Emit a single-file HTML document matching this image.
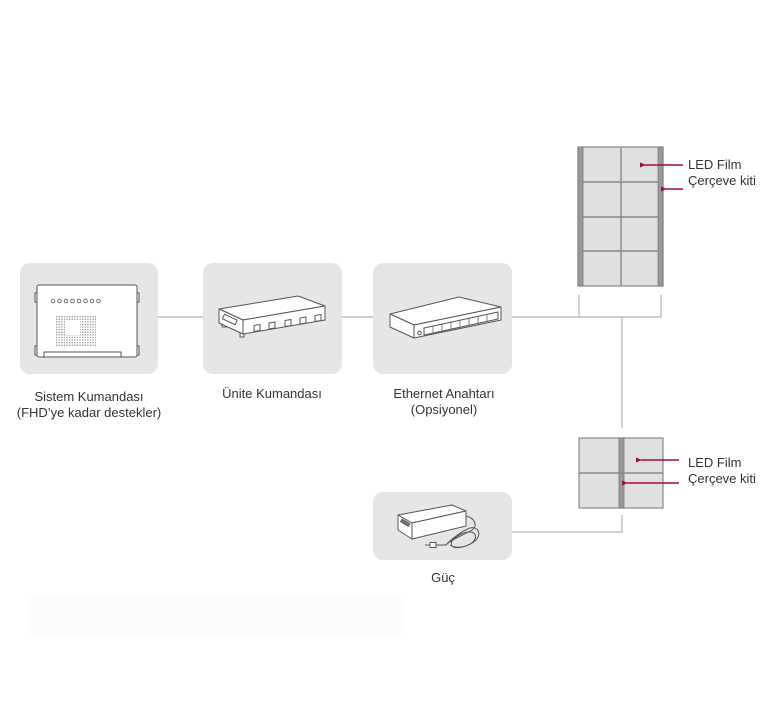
<!DOCTYPE html>
<html><head><meta charset="utf-8"><style>
html,body{margin:0;padding:0;background:#fff;}
svg{display:block;}
text{font-family:"Liberation Sans",sans-serif;font-size:13px;fill:#333;}
</style></head><body>
<svg width="768" height="713" viewBox="0 0 768 713" xmlns="http://www.w3.org/2000/svg">
<defs>
<marker id="ah" markerWidth="6" markerHeight="6" refX="1" refY="3" orient="auto" markerUnits="userSpaceOnUse">
<path d="M6,0.5 L0,3 L6,5.5 Z" fill="#a50a3c"/>
</marker>
</defs>
<!-- faint rect -->
<rect x="27" y="598" width="376" height="36" fill="#fcfcfc"/>

<!-- connectors -->
<g stroke="#b4b4b4" stroke-width="1.2" fill="none">
<line x1="157" y1="317" x2="203" y2="317"/>
<line x1="342" y1="317" x2="373" y2="317"/>
<polyline points="512,317 661,317 661,295"/>
<line x1="579" y1="295" x2="579" y2="317"/>
<line x1="622" y1="317" x2="622" y2="428"/>
<polyline points="512,532 622,532 622,515"/>
</g>

<!-- boxes -->
<g fill="#e6e6e6">
<rect x="20" y="263" width="138" height="111" rx="10"/>
<rect x="203" y="263" width="139" height="111" rx="10"/>
<rect x="373" y="263" width="139" height="111" rx="10"/>
<rect x="373" y="492" width="139" height="68" rx="10"/>
</g>

<!-- Sistem icon -->
<g stroke="#555" stroke-width="1" fill="#fff">
<rect x="35" y="293" width="3" height="9" fill="#fff"/>
<rect x="35" y="346" width="3" height="9" fill="#fff"/>
<rect x="136" y="293" width="3" height="9" fill="#fff"/>
<rect x="136" y="346" width="3" height="9" fill="#fff"/>
<rect x="37" y="285" width="100" height="72" rx="2"/>
<rect x="44" y="352" width="77" height="5" fill="#fff"/>
</g>
<g fill="#fff" stroke="#666" stroke-width="0.9">
<circle cx="53" cy="301" r="1.8"/><circle cx="59.5" cy="301" r="1.8"/><circle cx="66" cy="301" r="1.8"/><circle cx="72.5" cy="301" r="1.8"/>
<circle cx="79" cy="301" r="1.8"/><circle cx="85.5" cy="301" r="1.8"/><circle cx="92" cy="301" r="1.8"/><circle cx="98.5" cy="301" r="1.8"/>
</g>
<pattern id="dots" x="56" y="316" width="2.6" height="2.6" patternUnits="userSpaceOnUse"><rect width="1.3" height="1.3" fill="#999"/></pattern>
<rect x="56" y="316" width="40" height="30" fill="url(#dots)"/>
<rect x="65" y="321" width="15" height="14" fill="#fff"/>

<!-- Unite icon -->
<g stroke="#555" stroke-width="1" fill="#fff" stroke-linejoin="round">
<rect x="222" y="323" width="4" height="4"/>
<rect x="240" y="333" width="4" height="4"/>
<polygon points="219,309 298,296 325,306 243,320"/>
<polygon points="243,320 325,306 325,320 243,334"/>
<polygon points="219,309 243,320 243,334 219,323"/>
<rect x="223" y="317" width="14" height="5" transform="rotate(25 230 319)"/>
<rect x="254" y="325" width="6" height="6" transform="skewY(-9.6)" transform-origin="257 328"/>
<rect x="269" y="322.5" width="6" height="6" transform="skewY(-9.6)" transform-origin="272 325"/>
<rect x="285" y="320" width="6" height="6" transform="skewY(-9.6)" transform-origin="288 323"/>
<rect x="300" y="317.5" width="6" height="6" transform="skewY(-9.6)" transform-origin="303 320"/>
<rect x="315" y="315" width="6" height="6" transform="skewY(-9.6)" transform-origin="318 318"/>
</g>

<!-- Ethernet icon -->
<g stroke="#555" stroke-width="1" fill="#fff" stroke-linejoin="round">
<polygon points="390,314 459,297 501,307 414,325"/>
<polygon points="414,325 501,307 501,320 414,338"/>
<polygon points="390,314 414,325 414,338 390,327"/>
<circle cx="419.5" cy="333" r="1.8"/>
<polygon points="424,328 498,312 498,319 424,335"/>
</g>
<g stroke="#666" stroke-width="0.8" fill="none">
<line x1="433" y1="326" x2="433" y2="333"/>
<line x1="442" y1="324" x2="442" y2="331"/>
<line x1="451" y1="322" x2="451" y2="329"/>
<line x1="460" y1="320" x2="460" y2="327"/>
<line x1="469" y1="318" x2="469" y2="325"/>
<line x1="478" y1="316" x2="478" y2="323"/>
<line x1="487" y1="314" x2="487" y2="321"/>
</g>

<!-- Power icon -->
<g stroke="#555" stroke-width="1" fill="#fff" stroke-linejoin="round">
<polygon points="398,515 452,505 466,511 412,523"/>
<polygon points="412,523 466,511 466,526 412,539"/>
<polygon points="398,515 412,523 412,539 398,530"/>
<rect x="401" y="521" width="9" height="3" transform="rotate(30 405 522)" fill="#777"/>
</g>
<g stroke="#555" stroke-width="1" fill="none">
<path d="M466,516 C475,518 478,526 472,530 C462,536 450,540 446,545"/>
<path d="M446,545 C452,538 464,530 470,528 C478,526 482,534 476,540 C470,546 456,550 452,546 C448,541 460,533 468,532 C478,531 478,541 468,545 C462,548 455,548 450,545"/>
<path d="M446,545 L436,545"/>
<rect x="430" y="542.5" width="6" height="5" fill="#fff"/>
<line x1="425" y1="545" x2="430" y2="545"/>
</g>

<!-- top LED panel -->
<g>
<rect x="578" y="147" width="85" height="139" fill="#e0e0e0" stroke="#888" stroke-width="1.2"/>
<rect x="578" y="147" width="5" height="139" fill="#999" stroke="#777" stroke-width="0.8"/>
<rect x="658" y="147" width="5" height="139" fill="#999" stroke="#777" stroke-width="0.8"/>
<g stroke="#888" stroke-width="1.4">
<line x1="621" y1="147" x2="621" y2="286"/>
<line x1="583" y1="182" x2="658" y2="182"/>
<line x1="583" y1="217" x2="658" y2="217"/>
<line x1="583" y1="251" x2="658" y2="251"/>
</g>
</g>

<!-- bottom LED panel -->
<g>
<rect x="579" y="438" width="84" height="70" fill="#e0e0e0" stroke="#888" stroke-width="1.2"/>
<rect x="619" y="438" width="5" height="70" fill="#999" stroke="#777" stroke-width="0.8"/>
<line x1="579" y1="473" x2="663" y2="473" stroke="#888" stroke-width="1.4"/>
</g>

<!-- arrows -->
<g stroke="#a50a3c" stroke-width="1.4">
<line x1="683" y1="165" x2="645" y2="165" marker-end="url(#ah)"/>
<line x1="683" y1="189" x2="666" y2="189" marker-end="url(#ah)"/>
<line x1="679" y1="460" x2="641" y2="460" marker-end="url(#ah)"/>
<line x1="679" y1="483" x2="627" y2="483" marker-end="url(#ah)"/>
</g>

<!-- labels -->
<g text-anchor="middle">
<text x="89" y="401">Sistem Kumandası</text>
<text x="89" y="417">(FHD’ye kadar destekler)</text>
<text x="272" y="398">Ünite Kumandası</text>
<text x="444" y="398">Ethernet Anahtarı</text>
<text x="444" y="414">(Opsiyonel)</text>
<text x="443" y="582">Güç</text>
</g>
<text x="688" y="169">LED Film</text>
<text x="688" y="185">Çerçeve kiti</text>
<text x="688" y="467">LED Film</text>
<text x="688" y="483">Çerçeve kiti</text>
</svg>
</body></html>
